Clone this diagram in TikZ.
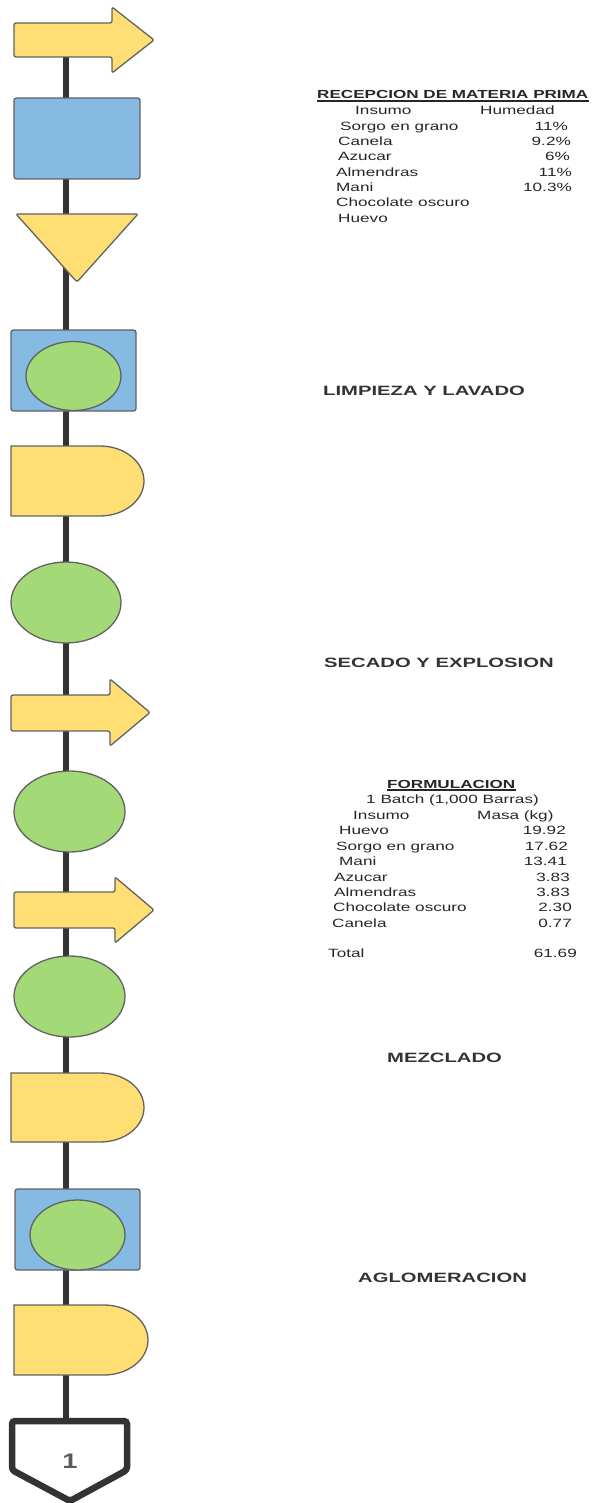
\documentclass[tikz,border=0pt]{standalone}
\usepackage{fontspec}
\setmainfont{Liberation Sans}
\usetikzlibrary{shapes.geometric}
\pgfdeclarelayer{bg}
\pgfsetlayers{bg,main}
\definecolor{yel}{HTML}{FFDE73}
\definecolor{blu}{HTML}{85BAE3}
\definecolor{grn}{HTML}{A3D977}
\definecolor{edgec}{HTML}{626262}
\definecolor{flowc}{HTML}{333333}
\definecolor{txtc}{HTML}{262626}
\definecolor{numc}{HTML}{5A5A5A}
\newcommand\tabtxt[1]{\scalebox{1.43}[1]{\fontsize{12}{14}\selectfont #1}}
\newcommand\ttltxt[1]{\scalebox{1.46}[1]{\fontsize{11.7}{13}\selectfont\bfseries #1}}
\newcommand\lbltxt[1]{\scalebox{1.5}[1]{\fontsize{13.5}{15}\selectfont\bfseries #1}}
\tikzset{
  shp/.style={draw=edgec, line width=1.3pt},
  boxshape/.style={shp, fill=blu, rounded corners=2.5pt, inner sep=0pt},
  ellshape/.style={shp, fill=grn, ellipse, inner sep=0pt},
  flowline/.style={draw=flowc, line width=6pt},
  tx/.style={inner sep=0pt, text=txtc},
  lb/.style={inner sep=0pt, text=flowc, anchor=base west},
  uline/.style={draw=txtc, line width=1.1pt}
}
\begin{document}
\begin{tikzpicture}[x=1pt, y=-1pt]
\useasboundingbox (0,0) rectangle (592,1503);
\coordinate (spine) at (66,0);

% ---- shapes ----
% arrow 1
\draw[shp, fill=yel, rounded corners=2pt] (14,23) -- (112,23) -- (112,7) -- (154,40) -- (112,73) -- (112,57) -- (14,57) -- cycle;
\coordinate (a1) at (66,40);
% rect 1
\node[boxshape, minimum width=126pt, minimum height=81pt] (b1) at (77,138.5) {};
% triangle
\draw[shp, fill=yel, rounded corners=2pt] (16,214) -- (138,214) -- (77,282) -- cycle;
\coordinate (tr) at (66,230);
% rect 2 with ellipse
\node[boxshape, minimum width=125pt, minimum height=81pt] (b2) at (73.5,370.5) {};
\node[ellshape, minimum width=95pt, minimum height=69pt] (e1) at (73.5,376) {};
% delay 1
\draw[shp, fill=yel] (11,446) -- (100,446) .. controls (124.3,446) and (144,461.7) .. (144,481) .. controls (144,500.3) and (124.3,516) .. (100,516) -- (11,516) -- cycle;
\coordinate (d1) at (66,481);
% ellipse 2
\node[ellshape, minimum width=110pt, minimum height=81pt] (e2) at (66,602.5) {};
% arrow 2
\draw[shp, fill=yel, rounded corners=2pt] (11,695) -- (110,695) -- (110,679) -- (150,712.5) -- (110,746) -- (110,731) -- (11,731) -- cycle;
\coordinate (a2) at (66,713);
% ellipse 3
\node[ellshape, minimum width=111pt, minimum height=81pt] (e3) at (69.5,811.5) {};
% arrow 3
\draw[shp, fill=yel, rounded corners=2pt] (14,892) -- (115,892) -- (115,877) -- (154,910) -- (115,943) -- (115,928) -- (14,928) -- cycle;
\coordinate (a3) at (66,910);
% ellipse 4
\node[ellshape, minimum width=111pt, minimum height=81pt] (e4) at (69.5,996.5) {};
% delay 2
\draw[shp, fill=yel] (11,1073) -- (100,1073) .. controls (124.3,1073) and (144,1088) .. (144,1107.5) .. controls (144,1127) and (124.3,1142) .. (100,1142) -- (11,1142) -- cycle;
\coordinate (d2) at (66,1107.5);
% rect 3 with ellipse
\node[boxshape, minimum width=125pt, minimum height=81pt] (b3) at (77.5,1229.5) {};
\node[ellshape, minimum width=95pt, minimum height=70pt] (e5) at (77.5,1235) {};
% delay 3
\draw[shp, fill=yel] (14,1305) -- (104,1305) .. controls (128.3,1305) and (148,1320.7) .. (148,1340) .. controls (148,1359.3) and (128.3,1375) .. (104,1375) -- (14,1375) -- cycle;
\coordinate (d3) at (66,1340);
% off-page connector
\draw[draw=flowc, fill=white, line width=6.5pt, rounded corners=3pt] (12,1421) -- (127,1421) -- (127,1470) -- (70,1501) -- (12,1470) -- cycle;
\coordinate (op) at (66,1421);
\node[inner sep=0pt, text=numc] (opn) at (70,1461) {\scalebox{1.3}[1]{\fontsize{21}{23}\selectfont\bfseries 1}};

% ---- flow line (behind) ----
\begin{pgfonlayer}{bg}
\draw[flowline] (a1) -- (spine |- b1.center);
\draw[flowline] (spine |- b1.center) -- (tr);
\draw[flowline] (tr) -- (spine |- b2.center);
\draw[flowline] (spine |- b2.center) -- (d1);
\draw[flowline] (d1) -- (spine |- e2.center);
\draw[flowline] (spine |- e2.center) -- (a2);
\draw[flowline] (a2) -- (spine |- e3.center);
\draw[flowline] (spine |- e3.center) -- (a3);
\draw[flowline] (a3) -- (spine |- e4.center);
\draw[flowline] (spine |- e4.center) -- (d2);
\draw[flowline] (d2) -- (spine |- b3.center);
\draw[flowline] (spine |- b3.center) -- (d3);
\draw[flowline] (d3) -- (op);
\end{pgfonlayer}

% ---- table 1 ----
\node[tx, anchor=base west] (t1) at (317,99) {\ttltxt{RECEPCION DE MATERIA PRIMA}};
\draw[uline] ([yshift=-2pt]t1.base west) -- ([yshift=-2pt]t1.base east);
\node[tx, anchor=base west] (h1a) at (355,115) {\tabtxt{Insumo}};
\node[tx, anchor=base west] (h1b) at (480,115) {\tabtxt{Humedad}};
\node[tx, anchor=base west] (r11) at (340,130.3) {\tabtxt{Sorgo en grano}};
\node[tx, anchor=base east] (v11) at (568,130.3) {\tabtxt{11\%}};
\node[tx, anchor=base west] (r12) at (338,145.7) {\tabtxt{Canela}};
\node[tx, anchor=base east] (v12) at (571,145.7) {\tabtxt{9.2\%}};
\node[tx, anchor=base west] (r13) at (338,161) {\tabtxt{Azucar}};
\node[tx, anchor=base east] (v13) at (570,161) {\tabtxt{6\%}};
\node[tx, anchor=base west] (r14) at (336,176.3) {\tabtxt{Almendras}};
\node[tx, anchor=base east] (v14) at (572,176.3) {\tabtxt{11\%}};
\node[tx, anchor=base west] (r15) at (336,191.7) {\tabtxt{Mani}};
\node[tx, anchor=base east] (v15) at (572,191.7) {\tabtxt{10.3\%}};
\node[tx, anchor=base west] (r16) at (336,207) {\tabtxt{Chocolate oscuro}};
\node[tx, anchor=base west] (r17) at (338,222.7) {\tabtxt{Huevo}};

% ---- labels ----
\node[lb] (l1) at (323,395.5) {\lbltxt{LIMPIEZA Y LAVADO}};
\node[lb] (l2) at (324,667.2) {\lbltxt{SECADO Y EXPLOSION}};
\node[lb] (l3) at (387,1062) {\lbltxt{MEZCLADO}};
\node[lb] (l4) at (358,1282) {\lbltxt{AGLOMERACION}};

% ---- table 2 ----
\node[tx, anchor=base west] (t2) at (387,788) {\ttltxt{FORMULACION}};
\draw[uline] ([yshift=-2pt]t2.base west) -- ([yshift=-2pt]t2.base east);
\node[tx, anchor=base west] (bt) at (366,803.3) {\tabtxt{1 Batch (1,000 Barras)}};
\node[tx, anchor=base west] (h2a) at (353,819) {\tabtxt{Insumo}};
\node[tx, anchor=base west] (h2b) at (477,819) {\tabtxt{Masa (kg)}};
\node[tx, anchor=base west] (r21) at (339,834.7) {\tabtxt{Huevo}};
\node[tx, anchor=base east] (v21) at (566,834.7) {\tabtxt{19.92}};
\node[tx, anchor=base west] (r22) at (336,850) {\tabtxt{Sorgo en grano}};
\node[tx, anchor=base east] (v22) at (568,850) {\tabtxt{17.62}};
\node[tx, anchor=base west] (r23) at (339,865.7) {\tabtxt{Mani}};
\node[tx, anchor=base east] (v23) at (567,865.7) {\tabtxt{13.41}};
\node[tx, anchor=base west] (r24) at (334,881) {\tabtxt{Azucar}};
\node[tx, anchor=base east] (v24) at (570,881) {\tabtxt{3.83}};
\node[tx, anchor=base west] (r25) at (334,896.3) {\tabtxt{Almendras}};
\node[tx, anchor=base east] (v25) at (570,896.3) {\tabtxt{3.83}};
\node[tx, anchor=base west] (r26) at (333,911.7) {\tabtxt{Chocolate oscuro}};
\node[tx, anchor=base east] (v26) at (572,911.7) {\tabtxt{2.30}};
\node[tx, anchor=base west] (r27) at (332,927.3) {\tabtxt{Canela}};
\node[tx, anchor=base east] (v27) at (572,927.3) {\tabtxt{0.77}};
\node[tx, anchor=base west] (r28) at (328,957.7) {\tabtxt{Total}};
\node[tx, anchor=base east] (v28) at (577,957.7) {\tabtxt{61.69}};
\end{tikzpicture}
\end{document}
